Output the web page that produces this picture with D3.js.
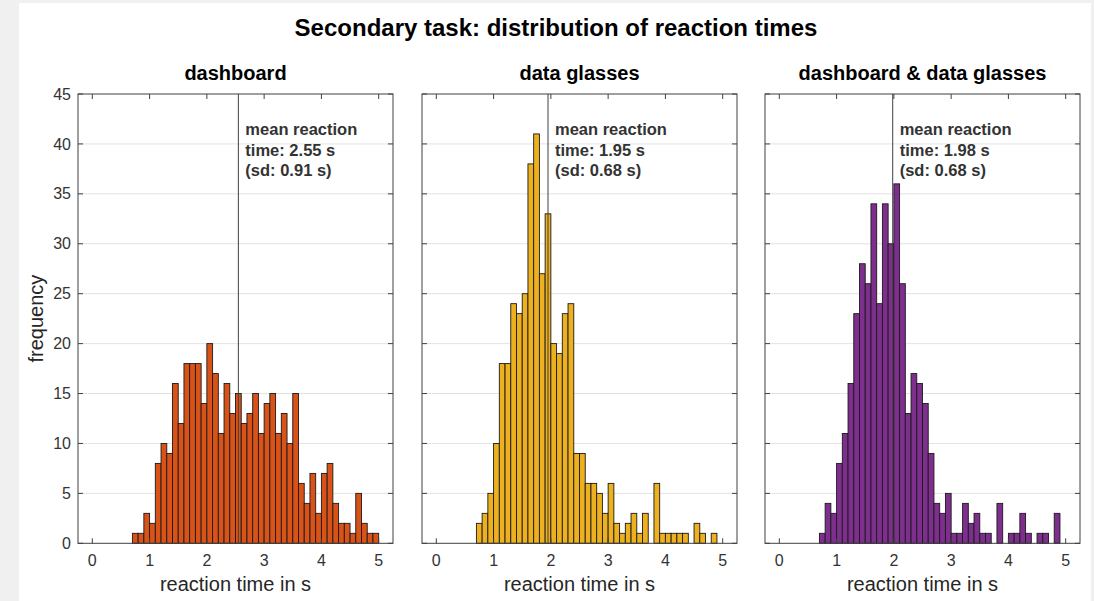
<!DOCTYPE html>
<html>
<head>
<meta charset="utf-8">
<script src="https://cdn.jsdelivr.net/npm/d3@7"></script>
<style>
  body { margin: 0; background: #f0f0f0; }
  svg { display: block; font-family: Arial, "Liberation Sans", sans-serif; }
</style>
</head>
<body>
<svg width="1094" height="601"></svg>
<script>
// left edges of the 0.1 s histogram bins
let binLefts = [0.7, 0.8, 0.9, 1.0, 1.1, 1.2, 1.3, 1.4, 1.5, 1.6, 1.7, 1.8, 1.9, 2.0, 2.1,
  2.2, 2.3, 2.4, 2.5, 2.6, 2.7, 2.8, 2.9, 3.0, 3.1, 3.2, 3.3, 3.4, 3.5, 3.6, 3.7, 3.8,
  3.9, 4.0, 4.1, 4.2, 4.3, 4.4, 4.5, 4.6, 4.7, 4.8, 4.9];
let binWidth = 0.1;

let conditions = ["dashboard", "data glasses", "dashboard & data glasses"];

let dashboardCounts = [1, 1, 3, 2, 8, 10, 9, 16, 12, 18, 18, 18, 14, 20, 17, 11, 16, 13, 15, 12, 13,
  15, 11, 14, 15, 11, 13, 10, 15, 6, 4, 7, 3, 7, 8, 4, 2, 2, 1, 5, 2, 1, 1];
let glassesCounts = [2, 3, 5, 10, 18, 18, 24, 23, 25, 38, 41, 27, 33, 20, 19, 23, 24, 9, 9, 6, 6,
  5, 3, 6, 2, 1, 2, 3, 1, 3, 0, 6, 1, 1, 1, 1, 1, 0, 2, 1, 0, 1, 0];
let bothCounts = [1, 4, 3, 8, 11, 16, 23, 28, 26, 34, 24, 34, 30, 36, 26, 13, 17, 16, 14, 9, 4,
  3, 5, 1, 1, 4, 2, 3, 1, 1, 0, 4, 0, 1, 1, 3, 1, 0, 1, 1, 0, 3, 0];

let means = [2.55, 1.95, 1.98];
let sds = [0.91, 0.68, 0.68];

let xTicks = [0, 1, 2, 3, 4, 5];
let yTicks = [0, 5, 10, 15, 20, 25, 30, 35, 40, 45];

let counts = [dashboardCounts, glassesCounts, bothCounts];
let colors = ["#D95319", "#EDB120", "#7E2F8E"];

let svg = d3.select("svg");

// white figure area
svg.append("rect")
    .attr("x", 19).attr("y", 3)
    .attr("width", 1072).attr("height", 600)
    .attr("fill", "#fff");

svg.append("text")
    .attr("x", 556).attr("y", 36)
    .attr("text-anchor", "middle")
    .style("font", "bold 24px Arial, 'Liberation Sans', sans-serif")
    .style("fill", "#000")
    .text("Secondary task: distribution of reaction times");

let lefts = [78, 422, 765],
    pw = 315,
    plotTop = 94,
    plotBottom = 543.3;

let y = d3.scaleLinear().domain([0, 45]).range([plotBottom, plotTop]);

conditions.forEach((name, i) => {
  let x = d3.scaleLinear().domain([-0.25, 5.25]).range([lefts[i], lefts[i] + pw]);
  let g = svg.append("g");

  // grid
  g.selectAll(".grid")
    .data(yTicks.slice(1, -1))
    .enter().append("line")
      .attr("x1", lefts[i]).attr("x2", lefts[i] + pw)
      .attr("y1", (d) => y(d)).attr("y2", (d) => y(d))
      .attr("stroke", "#e3e3e3");

  // bars
  g.selectAll(".bar")
    .data(binLefts.map((b, j) => ({x0: b, n: counts[i][j]})).filter((d) => d.n > 0))
    .enter().append("rect")
      .attr("x", (d) => x(d.x0))
      .attr("width", (d) => x(d.x0 + binWidth) - x(d.x0))
      .attr("y", (d) => y(d.n))
      .attr("height", (d) => y(0) - y(d.n))
      .attr("fill", colors[i])
      .attr("stroke", "#1a1a1a")
      .attr("stroke-width", 0.9);

  // mean line
  g.append("line")
      .attr("x1", x(means[i])).attr("x2", x(means[i]))
      .attr("y1", plotTop).attr("y2", plotBottom)
      .attr("stroke", "#404040");

  let note = g.append("text")
      .attr("x", x(means[i]) + 7)
      .attr("y", plotTop + 41)
      .style("font", "bold 16.5px Arial, 'Liberation Sans', sans-serif")
      .style("fill", "#333");
  ["mean reaction", "time: " + means[i].toFixed(2) + " s", "(sd: " + sds[i].toFixed(2) + " s)"]
    .forEach((t, k) => note.append("tspan").attr("x", x(means[i]) + 7).attr("dy", k ? 20.7 : 0).text(t));

  // axes box with inward ticks
  let ax = g.append("g").attr("stroke", "#404040");
  ax.append("rect")
      .attr("x", lefts[i]).attr("y", plotTop)
      .attr("width", pw).attr("height", plotBottom - plotTop)
      .attr("fill", "none");
  xTicks.forEach((t) => {
    ax.append("line").attr("x1", x(t)).attr("x2", x(t)).attr("y1", plotBottom).attr("y2", plotBottom - 5);
    ax.append("line").attr("x1", x(t)).attr("x2", x(t)).attr("y1", plotTop).attr("y2", plotTop + 5);
  });
  yTicks.forEach((t) => {
    ax.append("line").attr("x1", lefts[i]).attr("x2", lefts[i] + 5).attr("y1", y(t)).attr("y2", y(t));
    ax.append("line").attr("x1", lefts[i] + pw).attr("x2", lefts[i] + pw - 5).attr("y1", y(t)).attr("y2", y(t));
  });

  g.selectAll(".xtick")
    .data(xTicks)
    .enter().append("text")
      .attr("x", (d) => x(d))
      .attr("y", 566)
      .attr("text-anchor", "middle")
      .style("font-size", "16px")
      .style("fill", "#333")
      .text((d) => d);

  if (i === 0) {
    g.selectAll(".ytick")
      .data(yTicks)
      .enter().append("text")
        .attr("x", lefts[i] - 7)
        .attr("y", (d) => y(d))
        .attr("dy", "0.35em")
        .attr("text-anchor", "end")
        .style("font-size", "16px")
        .style("fill", "#333")
        .text((d) => d);

    g.append("text")
        .attr("transform", "translate(43," + ((plotTop + plotBottom) / 2) + ") rotate(-90)")
        .attr("text-anchor", "middle")
        .style("font-size", "20px")
        .style("fill", "#262626")
        .text("frequency");
  }

  g.append("text")
      .attr("x", lefts[i] + pw / 2)
      .attr("y", 591)
      .attr("text-anchor", "middle")
      .style("font-size", "20px")
      .style("fill", "#262626")
      .text("reaction time in s");

  g.append("text")
      .attr("x", lefts[i] + pw / 2)
      .attr("y", 80)
      .attr("text-anchor", "middle")
      .style("font", "bold 20px Arial, 'Liberation Sans', sans-serif")
      .style("fill", "#000")
      .text(name);
});
</script>
</body>
</html>
